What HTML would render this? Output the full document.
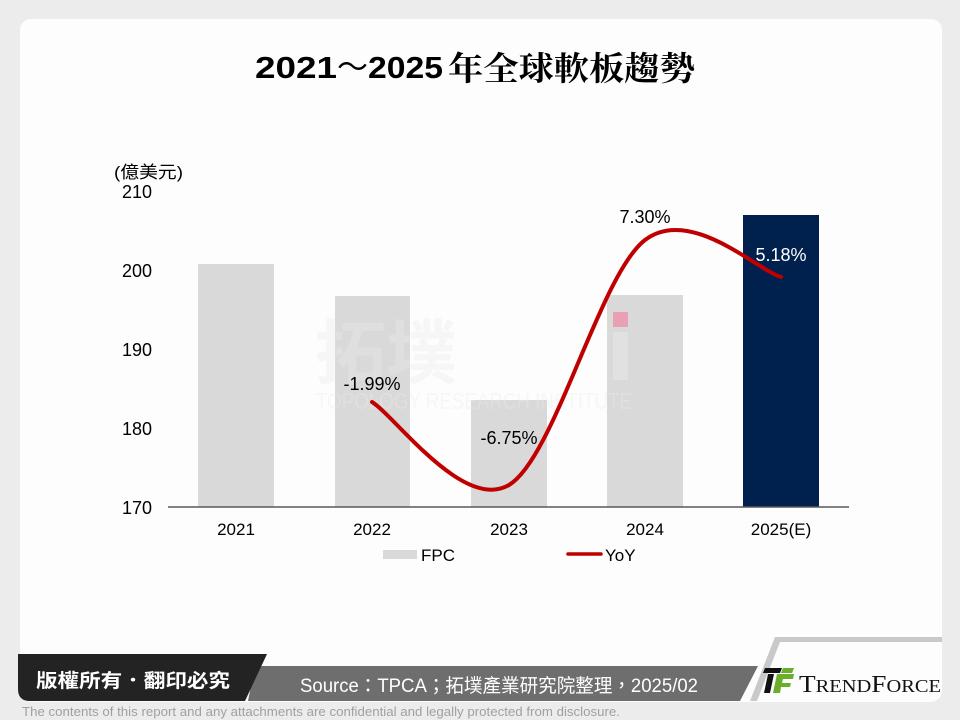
<!DOCTYPE html>
<html><head><meta charset="utf-8"><style>
html,body{margin:0;padding:0;background:#ececec;}
svg{display:block;}
</style></head><body>
<svg width="960" height="720" viewBox="0 0 960 720" xmlns="http://www.w3.org/2000/svg">
<rect x="0" y="0" width="960" height="720" fill="#ececec"/>
<rect x="20" y="19" width="922" height="683" rx="11" ry="11" fill="#fdfdfd"/>

<!-- Title -->
<g font-family="'Liberation Sans', 'Noto Sans CJK TC', sans-serif" font-weight="bold" fill="#000">
<text x="255" y="78" font-size="31" textLength="82" lengthAdjust="spacingAndGlyphs">2021</text>
<text x="337" y="78" font-size="31" font-family="'Noto Sans CJK TC', sans-serif" font-weight="normal" textLength="31" lengthAdjust="spacingAndGlyphs">～</text>
<text x="368" y="78" font-size="31" textLength="75" lengthAdjust="spacingAndGlyphs">2025</text>
<text x="448" y="80" font-size="33" font-family="'Noto Serif CJK SC', 'Noto Sans CJK TC', serif" font-weight="bold" textLength="247" lengthAdjust="spacingAndGlyphs">年全球軟板趨勢</text>
</g>

<!-- axis unit -->
<text x="114" y="178" font-size="17" font-family="'Liberation Sans', 'Noto Sans CJK TC', sans-serif" fill="#000" textLength="69" lengthAdjust="spacingAndGlyphs">(億美元)</text>

<!-- Y ticks -->
<g font-family="'Liberation Sans', sans-serif" font-size="18" fill="#000" text-anchor="end">
<text x="152" y="198">210</text>
<text x="152" y="277">200</text>
<text x="152" y="356">190</text>
<text x="152" y="435">180</text>
<text x="152" y="514">170</text>
</g>

<!-- Bars -->
<rect x="198" y="264" width="76" height="243" fill="#d9d9d9"/>
<rect x="335" y="296" width="75" height="211" fill="#d9d9d9"/>
<rect x="471" y="400" width="76" height="107" fill="#d9d9d9"/>
<rect x="607" y="295" width="76" height="212" fill="#d9d9d9"/>
<rect x="743" y="215" width="76" height="292" fill="#00214e"/>

<!-- watermark -->
<g opacity="0.35">
<text x="315" y="378" font-size="70" font-weight="bold" font-family="'Noto Sans CJK TC', sans-serif" fill="#ebebeb" textLength="142" lengthAdjust="spacingAndGlyphs">拓墣</text>
<text x="316" y="409" font-size="23" font-family="'Liberation Sans', sans-serif" fill="#ebebeb" textLength="316" lengthAdjust="spacingAndGlyphs">TOPOLOGY RESEARCH INSTITUTE</text>
<rect x="613" y="332" width="15" height="48" fill="#f2f2f2"/>
</g>
<rect x="613" y="312" width="15" height="15" fill="#e8a0b2"/>

<!-- axis line -->
<line x1="168" y1="507" x2="849" y2="507" stroke="#595959" stroke-width="1.4"/>

<!-- YoY line -->
<path d="M372,402 C394.8,415.8 463.5,512 509,485 C554.5,458 599.7,274.7 645,240 C690.3,205.3 758.3,270.8 781,277" fill="none" stroke="#c00000" stroke-width="4" stroke-linecap="round"/>

<!-- data labels -->
<g font-family="'Liberation Sans', sans-serif" font-size="18" text-anchor="middle">
<text x="372" y="390" fill="#000">-1.99%</text>
<text x="509" y="444" fill="#000">-6.75%</text>
<text x="645" y="223" fill="#000">7.30%</text>
<text x="781" y="261" fill="#fff">5.18%</text>
</g>

<!-- categories -->
<g font-family="'Liberation Sans', sans-serif" font-size="17" fill="#000" text-anchor="middle">
<text x="236" y="535">2021</text>
<text x="372" y="535">2022</text>
<text x="509" y="535">2023</text>
<text x="645" y="535">2024</text>
<text x="781" y="535">2025(E)</text>
</g>

<!-- legend -->
<rect x="383" y="550" width="34" height="9" fill="#d9d9d9"/>
<text x="421" y="561" font-family="'Liberation Sans', sans-serif" font-size="17" fill="#000">FPC</text>
<line x1="568" y1="554" x2="601" y2="554" stroke="#c00000" stroke-width="3.5" stroke-linecap="round"/>
<text x="605" y="561" font-family="'Liberation Sans', sans-serif" font-size="17" fill="#000">YoY</text>

<!-- footer -->
<path d="M255,666 L758,666 L740,701 L248,701 Z" fill="#6e6e6e"/>
<path d="M18,654 L267,654 L245,701 L30,701 Q18,701 18,689 Z" fill="#232323"/>
<path d="M775,637 L942,637 L942,690 Q942,701 931,701 L750,701 Z" fill="#c9c9c9"/>
<path d="M780,642 L942,642 L942,690 Q942,701 931,701 L757,701 Z" fill="#fdfdfd"/>

<text x="36" y="687" font-size="19" font-weight="bold" font-family="'Noto Sans CJK TC', sans-serif" fill="#fff" textLength="194" lengthAdjust="spacingAndGlyphs">版權所有．翻印必究</text>
<text x="300" y="692" font-size="19" font-family="'Liberation Sans', 'Noto Sans CJK TC', sans-serif" fill="#fff" textLength="398" lengthAdjust="spacingAndGlyphs">Source：TPCA；拓墣產業研究院整理，2025/02</text>

<!-- logo -->
<path d="M765,668 L782,668 L780,673 L763,673 Z" fill="#111"/>
<path d="M768,674 L774,674 L770,693 L764,693 Z" fill="#111"/>
<path d="M783,668 L794,668 L792,673 L781,673 Z" fill="#6aae2b"/>
<path d="M777,674 L794,674 L793,679 L783,679 L782,683 L791,683 L790,687 L781,687 L780,693 L773,693 Z" fill="#6aae2b"/>
<text x="799" y="692" font-family="'Liberation Serif', serif" fill="#111" textLength="142" lengthAdjust="spacingAndGlyphs"><tspan font-size="24">T</tspan><tspan font-size="18">REND</tspan><tspan font-size="24">F</tspan><tspan font-size="18">ORCE</tspan></text>

<text x="22" y="716" font-size="13" font-family="'Liberation Sans', sans-serif" fill="#a0a0a0" textLength="598" lengthAdjust="spacingAndGlyphs">The contents of this report and any attachments are confidential and legally protected from disclosure.</text>
</svg>
</body></html>
